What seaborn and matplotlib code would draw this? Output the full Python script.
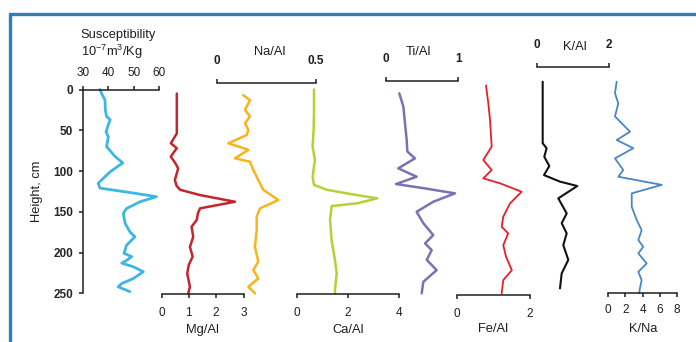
import matplotlib
matplotlib.use("Agg")
import matplotlib.pyplot as plt
import seaborn as sns
from matplotlib.lines import Line2D

# ---- data: height (cm) and measured ratios ----
susc_h = [0, 6, 13, 25, 33, 37, 45, 52, 58, 70, 82, 90, 101, 115, 121, 127, 131.5,
          137.7, 146, 152, 164, 174.5, 180.7, 191, 201, 205, 209, 213, 217.5, 223.6,
          231.8, 238, 242, 248]
susc_v = [36.7, 37.5, 38.7, 38.8, 39.3, 40.7, 39.8, 39.1, 40, 39.3, 42.6, 45.7, 40.7,
          36, 36.7, 49.9, 59, 52.5, 47.2, 45.9, 46.6, 48.5, 50.5, 47.2, 46.2, 49.2,
          47.5, 45.3, 49.9, 53.8, 49.9, 45.3, 43.9, 48.5]

mg_h = [5, 54, 60, 66, 72, 77, 82.5, 90, 96.8, 111, 118, 123, 129.5, 137.7, 145.8,
        152, 160, 168.4, 180.7, 193, 205, 215, 225.6, 242, 250]
mg_v = [0.56, 0.56, 0.45, 0.34, 0.56, 0.45, 0.34, 0.5, 0.61, 0.49, 0.55, 0.68, 1.41,
        2.69, 1.41, 1.33, 1.29, 1.10, 1.16, 1.04, 1.14, 1.0, 0.94, 1.04, 0.98]

na_h = [7, 13, 25, 33, 41.5, 49.7, 55.8, 66, 74, 84.5, 88.6, 98.8, 111, 123, 135.6,
        145.8, 156, 172.5, 193, 211, 221.6, 231.8, 242, 250]
na_v = [0.134, 0.168, 0.143, 0.168, 0.143, 0.16, 0.152, 0.059, 0.16, 0.092, 0.168,
        0.185, 0.21, 0.235, 0.311, 0.219, 0.202, 0.202, 0.193, 0.21, 0.185, 0.21,
        0.16, 0.193]

ca_h = [0, 29, 50, 70, 86.5, 107, 117, 123, 129.5, 133.5, 139.7, 143, 160, 184.7,
        209, 225.6, 246, 250]
ca_v = [0.674, 0.674, 0.66, 0.62, 0.71, 0.62, 0.674, 1.17, 2.34, 3.14, 2.34, 1.36,
        1.30, 1.36, 1.49, 1.56, 1.49, 1.5]

ti_h = [4.7, 21, 41.5, 62, 76, 84.5, 96.7, 107, 116, 121, 127.4, 137.7, 150, 164,
        178.6, 188.8, 197, 209, 221.6, 236, 250]
ti_v = [0.184, 0.24, 0.263, 0.286, 0.295, 0.40, 0.17, 0.424, 0.138, 0.516, 0.954,
        0.654, 0.424, 0.516, 0.654, 0.54, 0.632, 0.563, 0.70, 0.516, 0.494]

fe_h = [-5, 17, 37, 70, 86.5, 98.8, 109, 115, 125.4, 139.7, 156, 168.4, 176.5, 191,
        205, 221.6, 233.8, 250]
fe_v = [0.79, 0.853, 0.90, 0.946, 0.715, 0.946, 0.715, 1.17, 1.77, 1.45, 1.265,
        1.22, 1.40, 1.265, 1.34, 1.50, 1.265, 1.22]

kal_h = [-9.6, 66, 72, 82.5, 93.9, 105, 113, 118.4, 133.5, 152, 164, 176.5, 191,
         209, 225.6, 244]
kal_v = [0.15, 0.15, 0.26, 0.195, 0.335, 0.187, 0.633, 1.116, 0.586, 0.82, 0.68,
         0.82, 0.725, 0.865, 0.68, 0.633]

kna_h = [-9.6, 4.7, 17, 33, 51.8, 62, 72, 84.5, 98.8, 107, 117, 127.4, 143.8, 160,
         172.5, 184.7, 193, 201, 213.4, 223.6, 233.8, 244, 250]
kna_v = [0.98, 0.78, 1.17, 0.78, 2.54, 0.98, 2.92, 0.78, 1.75, 1.17, 6.25, 2.74,
         2.74, 3.32, 3.9, 3.51, 4.09, 3.51, 4.49, 3.51, 3.9, 3.7, 3.6]

height_ticks = [0, 50, 100, 150, 200, 250]

# ---- style ----
sns.set_style("white")
plt.rcParams["font.family"] = ["Liberation Sans", "DejaVu Sans"]
plt.rcParams["mathtext.fontset"] = "custom"
plt.rcParams["mathtext.rm"] = "Liberation Sans"
plt.rcParams["mathtext.default"] = "regular"

W, H = 696, 342
TOP, BOT = 89.5, 293.3
INK = "#1e1e1e"
TICK_FS = 8.5
LABEL_FS = 9.3
fig = plt.figure(figsize=(W / 100, H / 100), dpi=100)
fig.patch.set_facecolor("white")


def panel(x0, x1, lim, side, offset=0.0, ticks=None, bold=False, pad=7):
    ax = fig.add_axes([x0 / W, (H - BOT) / H, (x1 - x0) / W, (BOT - TOP) / H])
    ax.patch.set_alpha(0)
    for s in ax.spines.values():
        s.set_visible(False)
    sp = ax.spines[side]
    sp.set_visible(True)
    sp.set_position(("outward", offset))
    sp.set_color(INK)
    sp.set_linewidth(1.1)
    ax.xaxis.set_ticks_position(side)
    ax.xaxis.set_label_position(side)
    ax.set_yticks([])
    ax.tick_params(axis="x", direction="out", length=3, width=1.1, color=INK,
                   labelsize=TICK_FS, pad=pad, labelcolor=INK)
    ax._lim = lim
    ax._ticks = ticks
    ax._bold = bold
    return ax


def curve(ax, vals, hts, color, lw):
    sns.lineplot(x=vals, y=hts, ax=ax, orient="y", sort=False, color=color,
                 linewidth=lw, estimator=None)
    for ln in ax.lines:
        ln.set_clip_on(False)
        ln.set_solid_capstyle("round")
        ln.set_solid_joinstyle("round")
    ax.set_xlabel("")
    ax.set_ylabel("")
    ax.set_xlim(*ax._lim)
    ax.set_ylim(250, 0)
    if ax._ticks is not None:
        ax.set_xticks(ax._ticks)
        labels = [("%g" % t) for t in ax._ticks]
        ax.set_xticklabels(labels, fontweight="bold" if ax._bold else "normal")


# Magnetic susceptibility (with the shared height axis)
ax_s = panel(83, 159, (30, 60), "top", ticks=[30, 40, 50, 60], pad=4.5)
curve(ax_s, susc_v, susc_h, "#3db6e4", 2.0)
ax_s.spines["left"].set_visible(True)
ax_s.spines["left"].set_color(INK)
ax_s.spines["left"].set_linewidth(1.1)
ax_s.yaxis.set_ticks_position("left")
ax_s.set_yticks(height_ticks)
ax_s.set_ylim(250, 0)
ax_s.tick_params(axis="y", direction="out", length=3, width=1.1, color=INK,
                 labelsize=TICK_FS, pad=4)
for lab in ax_s.get_yticklabels():
    lab.set_fontweight("bold")

ax_mg = panel(161.5, 243.5, (0, 3), "bottom", 0.5, ticks=[0, 1, 2, 3], pad=6.5)
curve(ax_mg, mg_v, mg_h, "#c1272d", 1.8)

ax_na = panel(216.7, 315.7, (0, 0.5), "top", 5, ticks=[0, 0.5], bold=True, pad=8.5)
curve(ax_na, na_v, na_h, "#f8b41c", 1.8)

ax_ca = panel(296.7, 399.3, (0, 4), "bottom", 0.5, ticks=[0, 2, 4], pad=6.5)
curve(ax_ca, ca_v, ca_h, "#b4d235", 1.8)

ax_ti = panel(386, 458.3, (0, 1), "top", 6, ticks=[0, 1], bold=True, pad=8.5)
curve(ax_ti, ti_v, ti_h, "#7a72b2", 1.8)

ax_fe = panel(457.3, 530, (0, 2), "bottom", 1, ticks=[0, 2], pad=6.5)
curve(ax_fe, fe_v, fe_h, "#e5202b", 1.3)

ax_k = panel(537.3, 609, (0, 2), "top", 16, ticks=[0, 2], bold=True, pad=8.5)
curve(ax_k, kal_v, kal_h, "#111111", 1.5)

ax_kn = panel(608.3, 676.7, (0, 8), "bottom", 0, ticks=[0, 2, 4, 6, 8], pad=4.5)
curve(ax_kn, kna_v, kna_h, "#4a86c4", 1.3)

# ---- axis titles ----
def ftxt(x, y, s, **kw):
    fig.text(x / W, 1 - y / H, s, fontsize=LABEL_FS, color=INK, **kw)

ftxt(80, 35, "Susceptibility", ha="left", va="center")
ftxt(81, 52, r"10$^{-7}$m$^{3}$/Kg", ha="left", va="center")
ftxt(37, 191, "Height, cm", ha="center", va="center", rotation=90)
ftxt(202, 330, "Mg/Al", ha="center", va="center")
ftxt(270, 52, "Na/Al", ha="center", va="center")
ftxt(348, 330, "Ca/Al", ha="center", va="center")
ftxt(418, 52, "Ti/Al", ha="center", va="center")
ftxt(493, 329, "Fe/Al", ha="center", va="center")
ftxt(575, 47, "K/Al", ha="center", va="center")
ftxt(643, 329, "K/Na", ha="center", va="center")

# ---- blue frame ----
frame = "#2f7dbf"
fig.add_artist(Line2D([9.5 / W, 1.0], [1 - 13.5 / H, 1 - 13.5 / H],
                      transform=fig.transFigure, color=frame, lw=2.4))
fig.add_artist(Line2D([9.5 / W, 9.5 / W], [1 - 13.5 / H, 0.0],
                      transform=fig.transFigure, color=frame, lw=2.4))

fig.savefig("out.png", dpi=100, facecolor="white")
